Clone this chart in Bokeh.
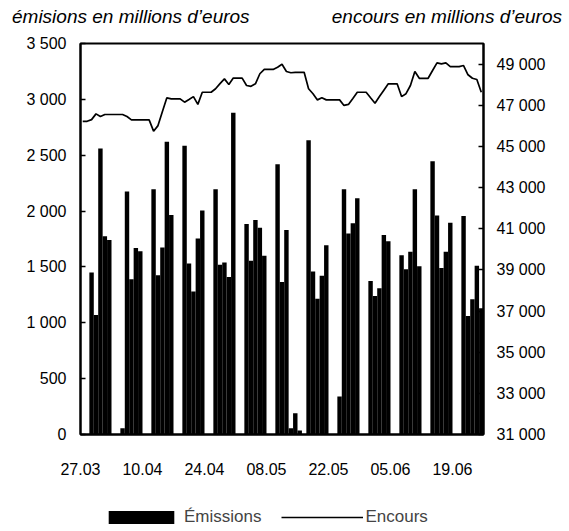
from datetime import date
from bokeh.plotting import figure
from bokeh.layouts import column, row
from bokeh.models import (Range1d, LinearAxis, FixedTicker, Legend,
                          LegendItem, ColumnDataSource, Div)
from bokeh.embed import file_html
from bokeh.resources import INLINE

YEAR = 2010
START = "27.03"

# Daily issuance (émissions), business days
emission_dates = [
    "29.03", "30.03", "31.03", "01.04", "02.04",
    "05.04", "06.04", "07.04", "08.04", "09.04",
    "12.04", "13.04", "14.04", "15.04", "16.04",
    "19.04", "20.04", "21.04", "22.04", "23.04",
    "26.04", "27.04", "28.04", "29.04", "30.04",
    "03.05", "04.05", "05.05", "06.05", "07.05",
    "10.05", "11.05", "12.05", "13.05", "14.05", "15.05",
    "17.05", "18.05", "19.05", "20.05", "21.05",
    "24.05", "25.05", "26.05", "27.05", "28.05",
    "31.05", "01.06", "02.06", "03.06", "04.06",
    "07.06", "08.06", "09.06", "10.06", "11.06",
    "14.06", "15.06", "16.06", "17.06", "18.06",
    "21.06", "22.06", "23.06", "24.06", "25.06",
]
emission_values = [
    1450, 1070, 2560, 1775, 1740,
    55, 2175, 1390, 1670, 1640,
    2195, 1425, 1675, 2620, 1965,
    2585, 1530, 1280, 1755, 2005,
    2195, 1520, 1540, 1410, 2880,
    1885, 1555, 1920, 1850, 1600,
    2420, 1365, 1830, 55, 190, 35,
    2635, 1460, 1215, 1420, 1695,
    340, 2195, 1800, 1890, 2115,
    1375, 1240, 1310, 1785, 1730,
    1605, 1480, 1635, 2195, 1505,
    2445, 1960, 1490, 1635, 1895,
    1955, 1060, 1210, 1510, 1130,
]

# Outstanding amount (encours), one value per calendar day from 27.03
encours_values = [
    46220, 46220, 46300, 46580, 46450, 46550, 46550, 46550, 46550, 46550,
    46450, 46290, 46290, 46290, 46290, 46290, 45740, 46010, 46700, 47360,
    47310, 47310, 47310, 47150, 47280, 47420, 47040, 47630, 47630, 47630,
    47800, 48050, 48280, 48010, 48320, 48320, 48320, 47960, 47920, 48040,
    48530, 48740, 48740, 48740, 48850, 48990, 48640, 48580, 48600, 48600,
    48600, 47800, 47560, 47260, 47360, 47260, 47260, 47260, 47260, 46990,
    47040, 47330, 47630, 47630, 47630, 47360, 47100, 47420, 47730, 48040,
    48040, 48040, 47420, 47560, 47960, 48640, 48310, 48310, 48310, 48690,
    49060, 49010, 49060, 48880, 48880, 48880, 48930, 48480, 48310, 48250,
    47630,
]

x_tick_labels = ["27.03", "10.04", "24.04", "08.05", "22.05", "05.06", "19.06"]
left_ticks = [0, 500, 1000, 1500, 2000, 2500, 3000, 3500]
left_tick_labels = ["0", "500", "1 000", "1 500", "2 000", "2 500", "3 000", "3 500"]
right_ticks = [31000, 33000, 35000, 37000, 39000, 41000, 43000, 45000, 47000, 49000]
right_tick_labels = ["31 000", "33 000", "35 000", "37 000", "39 000",
                     "41 000", "43 000", "45 000", "47 000", "49 000"]

title_left = "émisions en millions d’euros"
title_right = "encours en millions d’euros"
series_names = ["Émissions", "Encours"]
FONT = "Liberation Sans"
FS = "16px"
FS_LEG = "17px"


def day_index(s):
    d, m = map(int, s.split("."))
    d0, m0 = map(int, START.split("."))
    return (date(YEAR, m, d) - date(YEAR, m0, d0)).days


n_days = len(encours_values)

bar_src = ColumnDataSource(dict(
    x=[day_index(s) + 0.5 for s in emission_dates],
    top=emission_values,
))
line_src = ColumnDataSource(dict(
    x=[k + 0.5 for k in range(n_days)],
    y=encours_values,
))

HEAD = 32          # height of the title strip
W = 563
p = figure(width=W, height=460, output_backend="svg", toolbar_location=None,
           x_range=Range1d(0, n_days), y_range=Range1d(0, 3500),
           min_border_left=80, min_border_right=80,
           min_border_top=11, min_border_bottom=58)
p.extra_y_ranges = {"enc": Range1d(31000, 50000)}

p.xgrid.visible = False
p.ygrid.visible = False
p.outline_line_color = "black"
p.outline_line_width = 2
p.background_fill_color = "white"
p.border_fill_color = "white"

p.vbar(x="x", top="top", width=1.0, bottom=0, source=bar_src,
       fill_color="black", line_color=None)
p.line(x="x", y="y", source=line_src, y_range_name="enc",
       line_color="black", line_width=1.7)

# bottom axis
xa = p.xaxis[0]
xa.ticker = FixedTicker(ticks=[day_index(s) for s in x_tick_labels])
xa.major_label_overrides = {day_index(s): s for s in x_tick_labels}
xa.major_tick_line_color = None
xa.minor_tick_line_color = None
xa.axis_line_color = "black"
xa.axis_line_width = 2
xa.major_label_standoff = 22
xa.major_label_text_font = FONT
xa.major_label_text_font_size = FS
xa.major_label_text_color = "black"

# left axis
ya = p.yaxis[0]
ya.ticker = FixedTicker(ticks=left_ticks)
ya.major_label_overrides = dict(zip(left_ticks, left_tick_labels))
ya.major_tick_in = 5
ya.major_tick_out = 0
ya.major_tick_line_width = 1.5
ya.minor_tick_line_color = None
ya.axis_line_width = 2
ya.major_label_standoff = 14
ya.major_label_text_font = FONT
ya.major_label_text_font_size = FS
ya.major_label_text_color = "black"

# right axis
ra = LinearAxis(y_range_name="enc")
ra.ticker = FixedTicker(ticks=right_ticks)
ra.major_label_overrides = dict(zip(right_ticks, right_tick_labels))
ra.major_tick_in = 5
ra.major_tick_out = 0
ra.major_tick_line_width = 1.5
ra.minor_tick_line_color = None
ra.axis_line_width = 2
ra.major_label_standoff = 13
ra.major_label_text_font = FONT
ra.major_label_text_font_size = FS
ra.major_label_text_color = "black"
p.add_layout(ra, "right")

# legend strip: its own small figure (frame aligned with the chart above);
# its renderers reuse the series sources but are hidden, only keys are shown
pl = figure(width=W, height=36, output_backend="svg", toolbar_location=None,
            x_range=Range1d(0, n_days), y_range=Range1d(0, 3500),
            x_axis_type=None, y_axis_type=None,
            min_border_left=80, min_border_right=80,
            min_border_top=0, min_border_bottom=0)
pl.extra_y_ranges = {"enc": Range1d(31000, 50000)}
pl.xgrid.visible = False
pl.ygrid.visible = False
pl.outline_line_color = None
lb = pl.vbar(x="x", top="top", width=1.0, bottom=0, source=bar_src,
             fill_color="black", line_color=None, visible=False)
ll = pl.line(x="x", y="y", source=line_src, y_range_name="enc",
             line_color="black", line_width=1.5, visible=False)
legend = Legend(items=[LegendItem(label=series_names[0], renderers=[lb]),
                       LegendItem(label=series_names[1], renderers=[ll])],
                orientation="horizontal", location=(20, 1),
                glyph_width=82, glyph_height=16, label_standoff=2, spacing=20,
                padding=0, margin=0, border_line_color=None,
                background_fill_alpha=0, inactive_fill_alpha=0,
                label_text_font=FONT, label_text_font_size=FS_LEG, label_height=16)
pl.add_layout(legend)

style = ("font-family:'Liberation Sans';font-style:italic;font-size:19px;"
         "line-height:%dpx;white-space:nowrap;color:black;" % (HEAD + 2))
div_left = Div(text='<div style="%s width:280px;">%s</div>' % (style, title_left),
               width=280, height=HEAD, margin=(0, 0, 0, 12))
div_right = Div(text='<div style="%s width:270px;text-align:right;">%s</div>'
                % (style, title_right),
                width=270, height=HEAD, margin=(0, 0, 0, 0))

layout = column(row(div_left, div_right, margin=0), p, pl, margin=0, spacing=0)

open("out.html", "w").write(file_html(layout, INLINE))
